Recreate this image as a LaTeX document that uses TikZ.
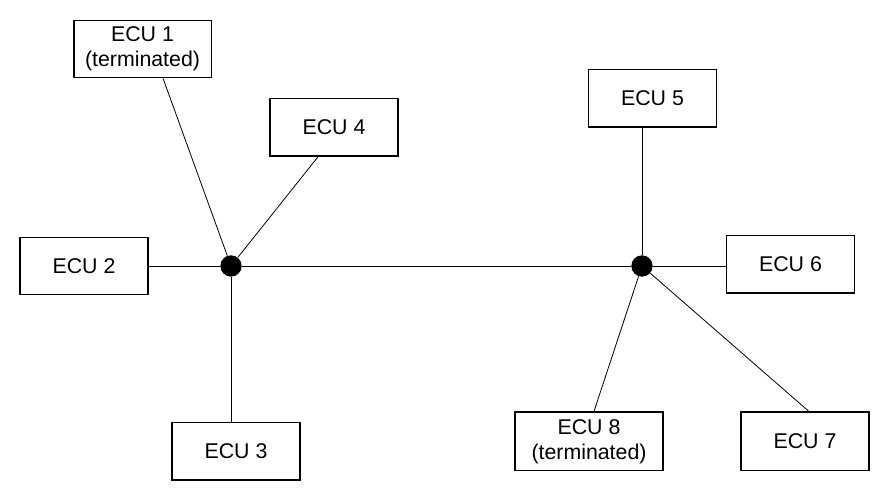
\documentclass[tikz,border=0pt]{standalone}
\usepackage{fontspec}
\setmainfont{Liberation Sans}
\usetikzlibrary{calc}
\tikzset{ecubox/.style={draw,line width=1pt,align=center,inner sep=0pt,
    minimum width=96pt,minimum height=43pt,
    font=\fontsize{16}{19}\selectfont},
  bus/.style={line width=.6pt},
  hub/.style={circle,fill,inner sep=0pt,minimum size=16pt}}
\begin{document}
\begin{tikzpicture}[x=.75pt,y=-.75pt]
\useasboundingbox (0,0) rectangle (876,495);
\node[hub] (hubL) at (231,266) {};
\node[hub] (hubR) at (642,266) {};
\node[ecubox,minimum width=103pt] (ecu1) at (142.5,49) {ECU 1\\(terminated)};
\node[ecubox] (ecu2) at (84,266) {ECU 2};
\node[ecubox] (ecu3) at (236,451.5) {ECU 3};
\node[ecubox] (ecu4) at (334,127.5) {ECU 4};
\node[ecubox] (ecu5) at (652.5,98.5) {ECU 5};
\node[ecubox] (ecu6) at (790.5,264.5) {ECU 6};
\node[ecubox,minimum height=44pt] (ecu7) at (805,441.5) {ECU 7};
\node[ecubox,minimum width=111pt,minimum height=44pt] (ecu8)
  at (589,441.5) {ECU 8\\(terminated)};
% bus and stubs
\draw[bus] (hubL) -- (hubR);
\draw[bus] ([xshift=15.4pt]ecu1.south) -- (hubL);
\draw[bus] (ecu2) -- (hubL);
\draw[bus] (hubL) -- (hubL |- ecu3.north);
\draw[bus] ([xshift=-12pt]ecu4.south) -- (hubL);
\draw[bus] (hubR |- ecu5.south) -- (hubR);
\draw[bus] (hubR) -- (hubR -| ecu6.west);
\draw[bus] (hubR) -- ([xshift=3pt]ecu7.north);
\draw[bus] (hubR) -- ([xshift=3.7pt]ecu8.north);
\end{tikzpicture}
\end{document}
